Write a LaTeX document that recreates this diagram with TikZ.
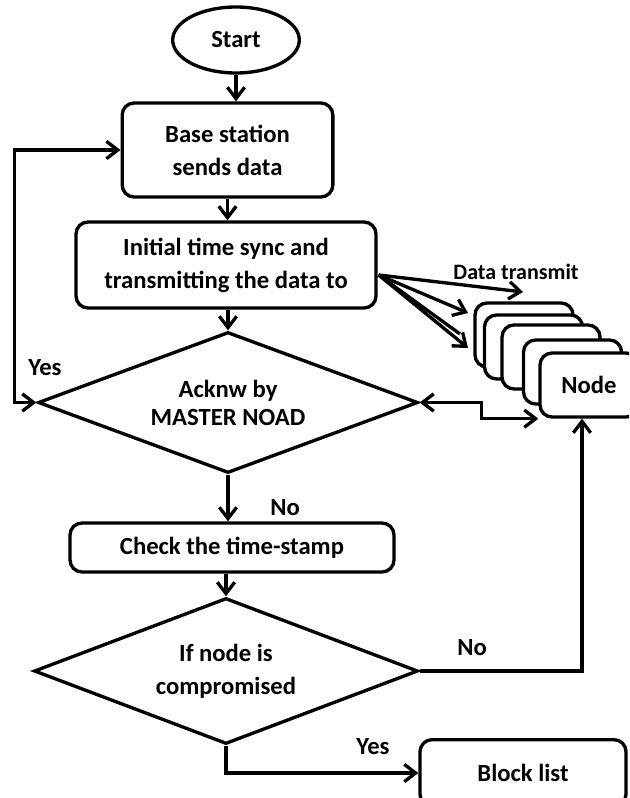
\documentclass[tikz,border=0pt]{standalone}
\usepackage{fontspec}
\setmainfont{Carlito}
\usetikzlibrary{shapes.geometric,arrows.meta,calc}
\begin{document}
\begin{tikzpicture}[x=0.75pt,y=-0.75pt,
  line width=2.5pt,
  every node/.style={font=\bfseries\fontsize{18.5}{24.75}\selectfont},
  box/.style={draw, rounded corners=9pt, align=center, inner sep=0pt, fill=white},
  dia/.style={draw, diamond, align=center, inner sep=0pt, aspect=2.7},
  term/.style={draw, ellipse, inner sep=0pt},
  lab/.style={inner sep=0pt},
  arr/.style={-{Straight Barb[length=8.5pt,width=13pt]}},
  darr/.style={{Straight Barb[length=8.5pt,width=13pt]}-{Straight Barb[length=8.5pt,width=13pt]}}]
\useasboundingbox (0,0) rectangle (629,798);
\clip (0,0) rectangle (629,798);

\node[term, minimum width=95pt, minimum height=49.5pt] (start) at (236,40) {Start};
\node[box, minimum width=158pt, minimum height=70.5pt] (base) at (227.5,150) {Base station\\sends data};
\node[box, minimum width=225pt, minimum height=64.5pt] (init) at (226,265) {Initial time sync and\\transmitting the data to};
\node[dia, minimum width=285pt, minimum height=105.75pt, font=\bfseries\fontsize{18.5}{21}\selectfont] (d1) at (228,402.5) {Acknw by\\MASTER NOAD};
\node[box, minimum width=243pt, minimum height=36.75pt] (check) at (232,547.5) {Check the time-stamp};
\node[dia, minimum width=288pt, minimum height=109.5pt, aspect=2.63] (d2) at (226,671) {If node is\\compromised};
\node[box, minimum width=154.5pt, minimum height=50pt, anchor=north] (block) at (523,738) {Block list};

% fan of transmissions
\coordinate (fo) at ($(init.east)+(1,10)$);
\coordinate (t1) at (523,292);
\coordinate (t2) at (468,313);
\coordinate (t3) at (468,348);
\draw[arr] (fo) -- (t1);
\draw[arr] (fo) -- (t2);
\draw[arr] (fo) -- (t3);
\draw (fo) -- (460,334);
\node[lab, font=\bfseries\fontsize{16.5}{20}\selectfont] (dt) at (516,272) {Data transmit};

% node stack
\node[box, minimum width=73.5pt, minimum height=48pt] (n1) at (524,335) {};
\node[box, minimum width=73.5pt, minimum height=48pt] (n2) at (533.5,347) {};
\node[box, minimum width=73.5pt, minimum height=48pt] (n3) at (551,357) {};
\node[box, minimum width=73.5pt, minimum height=48pt] (n4) at (572.5,372) {};
\node[box, minimum width=73.5pt, minimum height=48pt] (n5) at (589,385) {Node};

% main flow
\draw[arr] (start.south) -- (start.south |- base.north);
\draw[arr] (base.south) -- (base.south |- init.north);
\draw[arr] (d1.north |- init.south) -- (d1.north);
\draw[arr] (d1.south) -- (d1.south |- check.north);
\draw[arr] (d2.north |- check.south) -- (d2.north);
\draw[arr] (d2.south) |- (block.west);
\draw[arr] (d2.east) -| ([xshift=-5.25pt]n5.south);
\draw[darr] (d1.west) -- ++(-22,0) |- (base.west);
\draw[darr] (d1.east) -- ++(62,0) |- (n5.south west);

% labels
\node[lab] (yes1) at (45,368) {Yes};
\node[lab] (no1) at (285,508) {No};
\node[lab] (no2) at (472,648) {No};
\node[lab] (yes2) at (373,747) {Yes};
\end{tikzpicture}
\end{document}
